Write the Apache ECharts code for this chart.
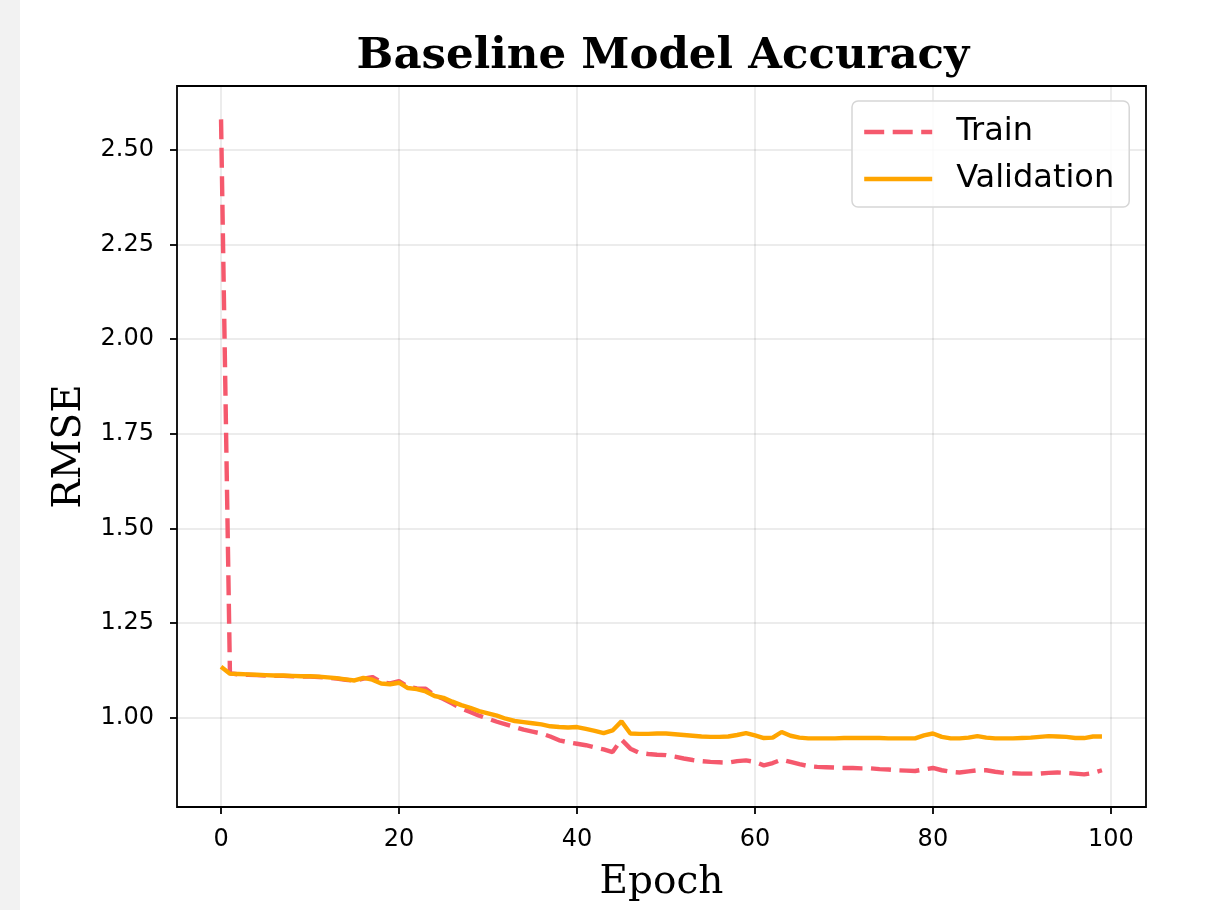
<!DOCTYPE html>
<html>
<head>
<meta charset="utf-8">
<script src="https://cdn.jsdelivr.net/npm/echarts@6/dist/echarts.min.js"></script>
<style>
html,body{margin:0;padding:0;background:#fff;}
#c{width:1221px;height:910px;}
</style>
</head>
<body>
<div id="c"></div>
<script>
const titleText = 'Baseline Model Accuracy';
const xName = 'Epoch';
const yName = 'RMSE';
const seriesNames = ['Train', 'Validation'];
const xTicks = [0, 20, 40, 60, 80, 100];
const yTicks = [1.00, 1.25, 1.50, 1.75, 2.00, 2.25, 2.50];
const xRange = [-4.95, 103.95];
const yRange = [0.765, 2.668];

const train = [
  2.58, 1.118, 1.115, 1.114, 1.113, 1.112, 1.111, 1.111, 1.110, 1.109,
  1.109, 1.108, 1.106, 1.104, 1.101, 1.098, 1.104, 1.108, 1.095, 1.091,
  1.097, 1.083, 1.078, 1.077, 1.060, 1.050, 1.038, 1.025, 1.016, 1.006,
  0.998, 0.990, 0.983, 0.976, 0.969, 0.964, 0.959, 0.951, 0.941, 0.936,
  0.932, 0.928, 0.922, 0.917, 0.910, 0.943, 0.919, 0.908, 0.905, 0.903,
  0.902, 0.898, 0.893, 0.889, 0.886, 0.884, 0.883, 0.882, 0.886, 0.888,
  0.884, 0.875, 0.881, 0.890, 0.884, 0.878, 0.873, 0.871, 0.870, 0.869,
  0.868, 0.868, 0.867, 0.867, 0.865, 0.864, 0.862, 0.861, 0.860, 0.864,
  0.868, 0.862, 0.858, 0.856, 0.859, 0.862, 0.862, 0.858, 0.855, 0.854,
  0.853, 0.853, 0.853, 0.855, 0.856, 0.855, 0.853, 0.851, 0.855, 0.862
];
const validation = [
  1.135, 1.117, 1.116, 1.115, 1.114, 1.113, 1.112, 1.112, 1.111, 1.110,
  1.110, 1.109, 1.107, 1.105, 1.102, 1.099, 1.106, 1.101, 1.091, 1.089,
  1.093, 1.079, 1.076, 1.070, 1.058, 1.053, 1.043, 1.034, 1.027, 1.018,
  1.012, 1.006, 0.998, 0.992, 0.989, 0.986, 0.983, 0.978, 0.976, 0.975,
  0.976, 0.971, 0.966, 0.960, 0.967, 0.991, 0.959, 0.958, 0.958, 0.959,
  0.959, 0.957, 0.955, 0.953, 0.951, 0.950, 0.950, 0.951, 0.955, 0.960,
  0.954, 0.947, 0.948, 0.963, 0.953, 0.948, 0.946, 0.946, 0.946, 0.946,
  0.947, 0.947, 0.947, 0.947, 0.947, 0.946, 0.946, 0.946, 0.946, 0.954,
  0.959, 0.950, 0.946, 0.946, 0.948, 0.952, 0.948, 0.946, 0.946, 0.946,
  0.947, 0.948, 0.950, 0.952, 0.951, 0.950, 0.947, 0.947, 0.951, 0.951
];
const epochs = train.map((_, i) => i);

const chart = echarts.init(document.getElementById('c'), null, {renderer: 'canvas'});
const sans = 'DejaVu Sans';
const serif = 'DejaVu Serif';
const lineW = 4.4;

const option = {
  backgroundColor: '#ffffff',
  animation: false,
  graphic: [{
    type: 'rect', left: 0, top: 0, z: -10,
    shape: {width: 20, height: 910},
    style: {fill: '#f2f2f2'}
  }],
  title: {
    text: titleText,
    left: 658, top: 30, textAlign: 'center',
    textStyle: {fontFamily: serif, fontWeight: 'bold', fontSize: 43.5, color: '#000'}
  },
  grid: {
    left: 177, top: 86, right: 75, bottom: 103,
    show: true, borderColor: '#000', borderWidth: 1.8, backgroundColor: 'transparent'
  },
  legend: {
    orient: 'vertical',
    left: 852, top: 101,
    padding: [15, 15, 12, 10],
    itemWidth: 68, itemHeight: 14, itemGap: 15,
    borderColor: '#d6d6d6', borderWidth: 1.5, borderRadius: 6,
    backgroundColor: 'rgba(255,255,255,0.85)',
    itemStyle: {opacity: 0},
    lineStyle: {width: lineW},
    textStyle: {fontFamily: sans, fontSize: 32, lineHeight: 32, color: '#000', padding: [0, 0, 0, 19]},
    data: seriesNames
  },
  xAxis: {
    type: 'value',
    min: xRange[0], max: xRange[1],
    name: xName, nameLocation: 'middle', nameGap: 56,
    nameTextStyle: {fontFamily: serif, fontSize: 39, color: '#000'},
    axisLine: {show: false, onZero: false},
    axisTick: {show: true, customValues: xTicks, length: 7, inside: false, lineStyle: {color: '#000', width: 1.8}},
    axisLabel: {customValues: xTicks, fontFamily: sans, fontSize: 24, color: '#000', margin: 21},
    splitLine: {show: true, lineStyle: {color: 'rgba(0,0,0,0.1)', width: 1.5}}
  },
  yAxis: {
    type: 'value',
    min: yRange[0], max: yRange[1],
    name: yName, nameLocation: 'middle', nameGap: 87,
    nameTextStyle: {fontFamily: serif, fontSize: 39, color: '#000'},
    axisLine: {show: false, onZero: false},
    axisTick: {show: true, customValues: yTicks, length: 7, inside: false, lineStyle: {color: '#000', width: 1.8}},
    axisLabel: {customValues: yTicks, fontFamily: sans, fontSize: 24, color: '#000', margin: 23,
      formatter: v => Number(v).toFixed(2)},
    splitLine: {show: true, lineStyle: {color: 'rgba(0,0,0,0.1)', width: 1.5}}
  },
  series: [
    {
      name: seriesNames[0], type: 'line', symbol: 'none',
      data: epochs.map((e, i) => [e, train[i]]),
      lineStyle: {color: '#f5596d', width: lineW, type: [20, 8.5]},
      itemStyle: {color: '#f5596d'}
    },
    {
      name: seriesNames[1], type: 'line', symbol: 'none',
      data: epochs.map((e, i) => [e, validation[i]]),
      lineStyle: {color: '#ffa500', width: lineW},
      itemStyle: {color: '#ffa500'}
    }
  ]
};
chart.setOption(option);
</script>
</body>
</html>
